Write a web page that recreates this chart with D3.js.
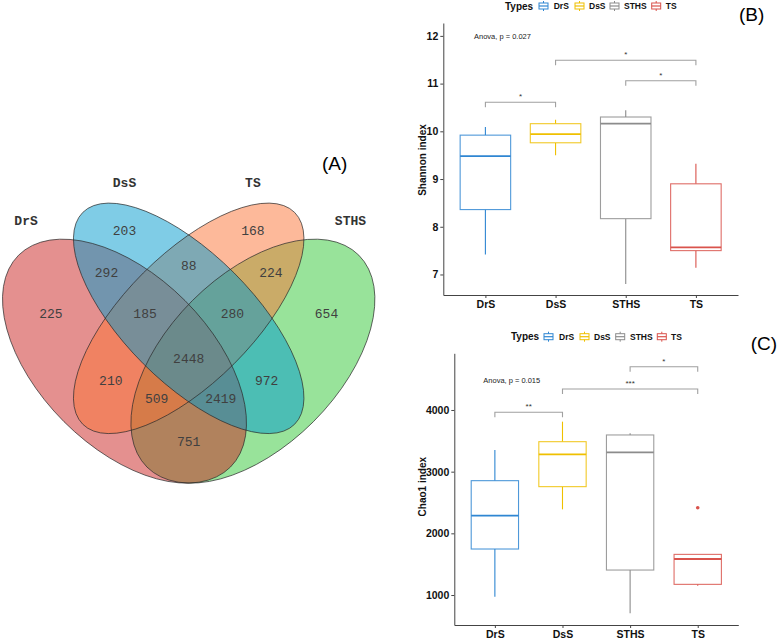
<!DOCTYPE html>
<html><head><meta charset="utf-8">
<script src="https://cdn.jsdelivr.net/npm/d3@7"></script>
<style>body{margin:0;background:#fff} svg{display:block}</style>
</head><body>
<svg id="c" width="778" height="639"></svg>
<script>
// ---------------- DATA ----------------
const vennSets = ["DrS", "DsS", "TS", "STHS"];
const vennRegions = ["DrS", "DsS", "TS", "STHS", "DrS&DsS", "DsS&TS", "TS&STHS", "DrS&DsS&TS", "DsS&TS&STHS",
  "DrS&DsS&TS&STHS", "DrS&TS", "DsS&STHS", "DrS&TS&STHS", "DrS&DsS&STHS", "DrS&STHS"];
const vennCounts = [225, 203, 168, 654, 292, 88, 224, 185, 280, 2448, 210, 972, 509, 2419, 751];

const groups = ["DrS", "DsS", "STHS", "TS"];
const shannonLow    = [7.42, 9.50, 6.80, 7.14];
const shannonQ1     = [8.36, 9.76, 8.17, 7.50];
const shannonMedian = [9.48, 9.94, 10.16, 7.57];
const shannonQ3     = [9.92, 10.16, 10.30, 8.90];
const shannonHigh   = [10.09, 10.24, 10.44, 9.32];
const shannonTicks  = [7, 8, 9, 10, 11, 12];
const shannonPairs  = [["DrS", "DsS"], ["STHS", "TS"], ["DsS", "TS"]];
const shannonPairY  = [10.61, 11.06, 11.49];
const shannonSig    = ["*", "*", "*"];
const shannonAnova  = "Anova, p = 0.027";

const chaoLow    = [973, 2389, 703, 1151];
const chaoQ1     = [1746, 2757, 1405, 1173];
const chaoMedian = [2286, 3281, 3314, 1584];
const chaoQ3     = [2854, 3486, 3595, 1659];
const chaoHigh   = [3351, 3811, 3622, 1659];
const chaoOutGroup = ["TS"];
const chaoOutValue = [2416];
const chaoTicks  = [1000, 2000, 3000, 4000];
const chaoPairs  = [["DrS", "DsS"], ["DsS", "TS"], ["STHS", "TS"]];
const chaoPairY  = [3963, 4340, 4702];
const chaoSig    = ["**", "***", "*"];
const chaoAnova  = "Anova, p = 0.015";

// ---------------- STYLE / LAYOUT ----------------
const svg = d3.select("#c");
const SANS = "'Liberation Sans', Arial, sans-serif";
const MONO = "'Liberation Mono', 'DejaVu Sans Mono', monospace";
const boxColor = {DrS: "#2F86D2", DsS: "#EFC000", STHS: "#8C8C8C", TS: "#D9534C"};
const vennFill = {DrS: "#C9211F", DsS: "#0099CD", TS: "#FB7335", STHS: "#31C735"};

// Venn geometry (VennDiagram quad layout, npc units)
const ellipseLayout = {
  DrS:  {cx: 0.35, cy: 0.47, a: 0.35, b: 0.20, rot: 45},
  DsS:  {cx: 0.50, cy: 0.57, a: 0.35, b: 0.15, rot: 45},
  TS:   {cx: 0.50, cy: 0.57, a: 0.35, b: 0.15, rot: -45},
  STHS: {cx: 0.65, cy: 0.47, a: 0.35, b: 0.20, rot: -45}
};
const drawOrder = ["STHS", "DrS", "TS", "DsS"];
const regionPos = {
  "DrS": [0.178, 0.58], "DsS": [0.35, 0.772], "TS": [0.65, 0.772], "STHS": [0.822, 0.58],
  "DrS&DsS": [0.308, 0.674], "DsS&TS": [0.5, 0.692], "TS&STHS": [0.692, 0.674],
  "DrS&DsS&TS": [0.398, 0.58], "DsS&TS&STHS": [0.602, 0.58], "DrS&DsS&TS&STHS": [0.5, 0.473],
  "DrS&TS": [0.318, 0.422], "DsS&STHS": [0.682, 0.422], "DrS&TS&STHS": [0.425, 0.381],
  "DrS&DsS&STHS": [0.575, 0.381], "DrS&STHS": [0.5, 0.28]
};
const setLabelPos = {DrS: [0.12, 0.796], DsS: [0.35, 0.886], TS: [0.65, 0.886], STHS: [0.878, 0.796]};

const vx = d3.scaleLinear().domain([0, 1]).range([-25.3, 402.7]);
const vy = d3.scaleLinear().domain([0, 1]).range([562.3, 134.3]);
const vr = d3.scaleLinear().domain([0, 1]).range([0, 428]);

const gV = svg.append("g");
const ells = drawOrder.map(s => Object.assign({set: s}, ellipseLayout[s]));
const tf = d => `translate(${vx(d.cx)},${vy(d.cy)}) rotate(${d.rot})`;
gV.append("g").selectAll("ellipse").data(ells).join("ellipse")
  .attr("rx", d => vr(d.a)).attr("ry", d => vr(d.b)).attr("transform", tf)
  .attr("fill", d => vennFill[d.set]).attr("fill-opacity", 0.5).attr("stroke", "none");
gV.append("g").selectAll("ellipse").data(ells).join("ellipse")
  .attr("rx", d => vr(d.a)).attr("ry", d => vr(d.b)).attr("transform", tf)
  .attr("fill", "none").attr("stroke", "#2a2a2a").attr("stroke-width", 0.8).attr("stroke-opacity", 0.85);

gV.append("g").selectAll("text").data(vennRegions.map((r, i) => ({r, v: vennCounts[i]}))).join("text")
  .attr("x", d => vx(regionPos[d.r][0])).attr("y", d => vy(regionPos[d.r][1]))
  .attr("text-anchor", "middle").attr("dominant-baseline", "central")
  .attr("font-family", MONO).attr("font-size", 13).attr("fill", "#404040")
  .text(d => d.v);
gV.append("g").selectAll("text").data(vennSets).join("text")
  .attr("x", d => vx(setLabelPos[d][0])).attr("y", d => vy(setLabelPos[d][1]))
  .attr("text-anchor", "middle").attr("dominant-baseline", "central")
  .attr("font-family", MONO).attr("font-size", 13).attr("font-weight", "bold").attr("fill", "#333")
  .text(d => d);

svg.append("text").attr("x", 334.7).attr("y", 163.3).attr("text-anchor", "middle")
  .attr("dominant-baseline", "central").attr("font-family", SANS).attr("font-size", 19).text("(A)");

// ---------------- BOX PLOTS ----------------
function boxPanel(o) {
  const g = svg.append("g");
  const x = d3.scalePoint().domain(groups).range(o.xr).padding(0.6);
  const y = d3.scaleLinear().domain(o.yd).range(o.yr);
  const bw = o.bwf * x.step();
  const rows = groups.map((k, i) => ({k, lo: o.low[i], q1: o.q1[i], med: o.med[i], q3: o.q3[i], hi: o.high[i]}));

  // axes
  const ya = g.append("g").attr("transform", `translate(${o.xr[0]},0)`)
    .call(d3.axisLeft(y).tickValues(o.ticks).tickFormat(d3.format("d")).tickSize(3).tickSizeOuter(0).tickPadding(2));
  const xa = g.append("g").attr("transform", `translate(0,${o.yr[0]})`)
    .call(d3.axisBottom(x).tickSize(3).tickSizeOuter(0).tickPadding(3));
  [ya, xa].forEach(a => {
    a.select(".domain").attr("stroke", "#444").attr("stroke-width", 1);
    a.selectAll(".tick line").attr("stroke", "#444");
    a.selectAll(".tick text").attr("font-family", SANS).attr("font-size", 10.5)
      .attr("font-weight", "bold").attr("fill", "#111");
  });

  // boxes
  const bg = g.append("g").selectAll("g").data(rows).join("g");
  bg.append("line").attr("x1", d => x(d.k)).attr("x2", d => x(d.k))
    .attr("y1", d => y(d.lo)).attr("y2", d => y(d.q1)).attr("stroke", d => boxColor[d.k]).attr("stroke-width", 1.1);
  bg.append("line").attr("x1", d => x(d.k)).attr("x2", d => x(d.k))
    .attr("y1", d => y(d.q3)).attr("y2", d => y(d.hi)).attr("stroke", d => boxColor[d.k]).attr("stroke-width", 1.1);
  bg.append("rect").attr("x", d => x(d.k) - bw / 2).attr("width", bw)
    .attr("y", d => y(d.q3)).attr("height", d => y(d.q1) - y(d.q3))
    .attr("fill", "#fff").attr("stroke", d => boxColor[d.k]).attr("stroke-width", 1.1).attr("stroke-opacity", 0.85);
  bg.append("line").attr("x1", d => x(d.k) - bw / 2).attr("x2", d => x(d.k) + bw / 2)
    .attr("y1", d => y(d.med)).attr("y2", d => y(d.med)).attr("stroke", d => boxColor[d.k]).attr("stroke-width", 1.8);

  if (o.outG) {
    g.append("g").selectAll("circle").data(o.outG.map((k, i) => ({k, v: o.outV[i]}))).join("circle")
      .attr("cx", d => x(d.k)).attr("cy", d => y(d.v)).attr("r", 1.8).attr("fill", d => boxColor[d.k]);
  }

  // significance brackets
  const br = g.append("g");
  o.pairs.forEach((p, i) => {
    const yy = y(o.pairY[i]);
    br.append("path").attr("d", `M${x(p[0])},${yy + 5}V${yy}H${x(p[1])}V${yy + 5}`)
      .attr("fill", "none").attr("stroke", "#a0a0a0").attr("stroke-width", 1.1);
    br.append("text").attr("x", (x(p[0]) + x(p[1])) / 2).attr("y", yy - 3)
      .attr("text-anchor", "middle").attr("font-family", SANS).attr("font-size", 8).attr("fill", "#333")
      .text(o.sig[i]);
  });

  g.append("text").attr("x", o.anovaX).attr("y", o.anovaY).attr("dominant-baseline", "central")
    .attr("font-family", SANS).attr("font-size", 7.5).attr("fill", "#222").text(o.anova);

  g.append("text").attr("transform", `translate(422.7,${o.titleY}) rotate(-90)`)
    .attr("text-anchor", "middle").attr("dominant-baseline", "central")
    .attr("font-family", SANS).attr("font-size", 10).attr("font-weight", "bold").attr("fill", "#111").text(o.title);

  // legend
  const lg = g.append("g");
  lg.append("text").attr("x", o.leg.types).attr("y", o.leg.y).attr("dominant-baseline", "central")
    .attr("font-family", SANS).attr("font-size", 10).attr("font-weight", "bold").attr("fill", "#111").text("Types");
  groups.forEach((k, i) => {
    const kx = o.leg.keys[i], cy = o.leg.y, c = boxColor[k];
    lg.append("line").attr("x1", kx + 4.5).attr("x2", kx + 4.5).attr("y1", cy - 5).attr("y2", cy + 5).attr("stroke", c);
    lg.append("rect").attr("x", kx).attr("y", cy - 3).attr("width", 9).attr("height", 6)
      .attr("fill", "#fff").attr("stroke", c).attr("stroke-width", 1);
    lg.append("line").attr("x1", kx).attr("x2", kx + 9).attr("y1", cy).attr("y2", cy).attr("stroke", c).attr("stroke-width", 1.2);
    lg.append("text").attr("x", o.leg.labels[i]).attr("y", cy).attr("dominant-baseline", "central")
      .attr("font-family", SANS).attr("font-size", 8.5).attr("font-weight", "bold").attr("fill", "#111").text(k);
  });

  svg.append("text").attr("x", o.tag[0]).attr("y", o.tag[1]).attr("text-anchor", "middle")
    .attr("dominant-baseline", "central").attr("font-family", SANS).attr("font-size", 19).text(o.tagText);
}

boxPanel({
  xr: [443.3, 738], yd: [6.57, 12.27], yr: [295, 23], bwf: 0.72,
  low: shannonLow, q1: shannonQ1, med: shannonMedian, q3: shannonQ3, high: shannonHigh,
  ticks: shannonTicks, pairs: shannonPairs, pairY: shannonPairY, sig: shannonSig,
  anova: shannonAnova, anovaX: 474, anovaY: 36, title: "Shannon index", titleY: 160,
  leg: {y: 6, types: 505, keys: [539, 575, 610, 651.7], labels: [553.7, 589, 624, 665.7]},
  tag: [751.7, 14], tagText: "(B)"
});
boxPanel({
  xr: [454.3, 738.3], yd: [514, 4919], yr: [625, 353.3], bwf: 0.70,
  low: chaoLow, q1: chaoQ1, med: chaoMedian, q3: chaoQ3, high: chaoHigh, outG: chaoOutGroup, outV: chaoOutValue,
  ticks: chaoTicks, pairs: chaoPairs, pairY: chaoPairY, sig: chaoSig,
  anova: chaoAnova, anovaX: 483.3, anovaY: 380, title: "Chao1 index", titleY: 486.7,
  leg: {y: 336.7, types: 511, keys: [544, 580, 615.7, 657.3], labels: [559, 594, 630, 671]},
  tag: [764, 343.3], tagText: "(C)"
});
</script></body></html>
